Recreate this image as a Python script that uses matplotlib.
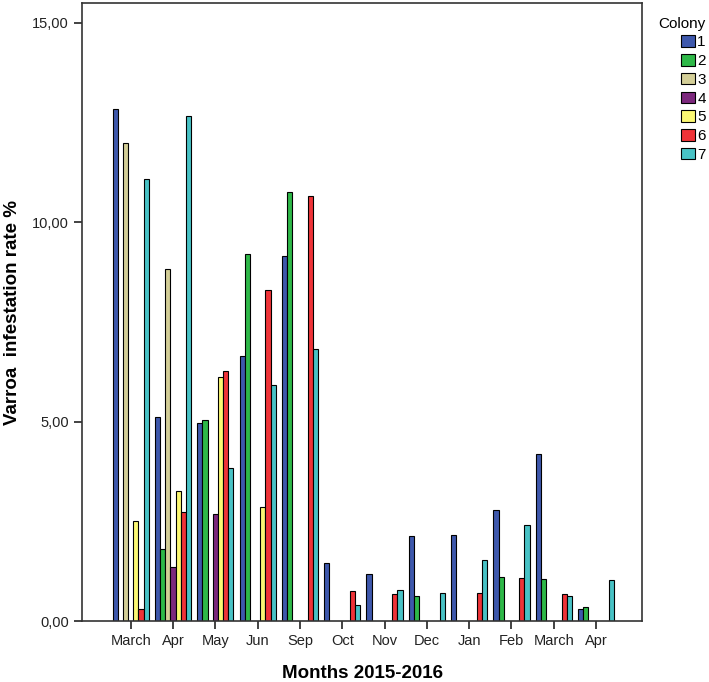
import numpy as np
import matplotlib
matplotlib.use("Agg")
import matplotlib.pyplot as plt

plt.rcParams['font.family'] = ['Liberation Sans', 'DejaVu Sans']

months = ["March", "Apr", "May", "Jun", "Sep", "Oct", "Nov", "Dec",
          "Jan", "Feb", "March", "Apr"]
colonies = ["1", "2", "3", "4", "5", "6", "7"]

# infestation rate (%) per colony, one value per month (0 = no bar)
colony_1 = [12.84, 5.12, 4.96, 6.65, 9.16, 1.46, 1.17, 2.13, 2.17, 2.78, 4.20, 0.31]
colony_2 = [0.00, 1.80, 5.03, 9.20, 10.75, 0.00, 0.00, 0.64, 0.00, 1.10, 1.05, 0.34]
colony_3 = [11.98, 8.83, 0.00, 0.00, 0.00, 0.00, 0.00, 0.00, 0.00, 0.00, 0.00, 0.00]
colony_4 = [0.00, 1.36, 2.68, 0.00, 0.00, 0.00, 0.00, 0.00, 0.00, 0.00, 0.00, 0.00]
colony_5 = [2.52, 3.25, 6.13, 2.87, 0.00, 0.00, 0.00, 0.00, 0.00, 0.00, 0.00, 0.00]
colony_6 = [0.29, 2.73, 6.26, 8.31, 10.67, 0.75, 0.69, 0.00, 0.70, 1.09, 0.67, 0.00]
colony_7 = [11.08, 12.67, 3.84, 5.91, 6.83, 0.39, 0.77, 0.71, 1.54, 2.40, 0.63, 1.02]

series = [colony_1, colony_2, colony_3, colony_4, colony_5, colony_6, colony_7]
colors = ["#3e58ac", "#2eb848", "#d3ce97", "#7c287d", "#fbf873", "#ef3338", "#48c2c5"]

fig = plt.figure(figsize=(7.09, 6.82), dpi=100)
ax = fig.add_axes([0.1157, 0.0894, 0.7898, 0.9062])

x = np.arange(len(months))
w = 0.122
for i, (vals, col) in enumerate(zip(series, colors)):
    vals = np.array(vals)
    mask = vals > 0
    ax.bar(x[mask] + (i - 3) * w, vals[mask], width=w, color=col,
           edgecolor="black", linewidth=0.8, label=colonies[i])

ax.set_xlim(-1.15, 12.085)
ax.set_ylim(0, 15.5)
ax.set_yticks([0, 5, 10, 15])
ax.set_yticklabels(["0,00", "5,00", "10,00", "15,00"])
ax.set_xticks(x)
ax.set_xticklabels(months)
ax.tick_params(axis="both", direction="out", length=6, width=1.2,
               labelsize=10.5, colors="#222222")

for sp in ax.spines.values():
    sp.set_color("#333333")
    sp.set_linewidth(1.2)

ax.set_xlabel("Months 2015-2016", fontsize=13.5, fontweight="bold", labelpad=12)
ax.set_ylabel("Varroa  infestation rate %", fontsize=13.5, fontweight="bold", labelpad=8)

leg = ax.legend(loc="upper left", bbox_to_anchor=(1.005, 1.0), frameon=False,
                title="Colony", fontsize=11, title_fontsize=11,
                handlelength=0.9, handleheight=0.8, handletextpad=0.15,
                labelspacing=0.3, borderaxespad=0.5)
leg._legend_box.align = "right"

fig.savefig("out.png", dpi=100)
